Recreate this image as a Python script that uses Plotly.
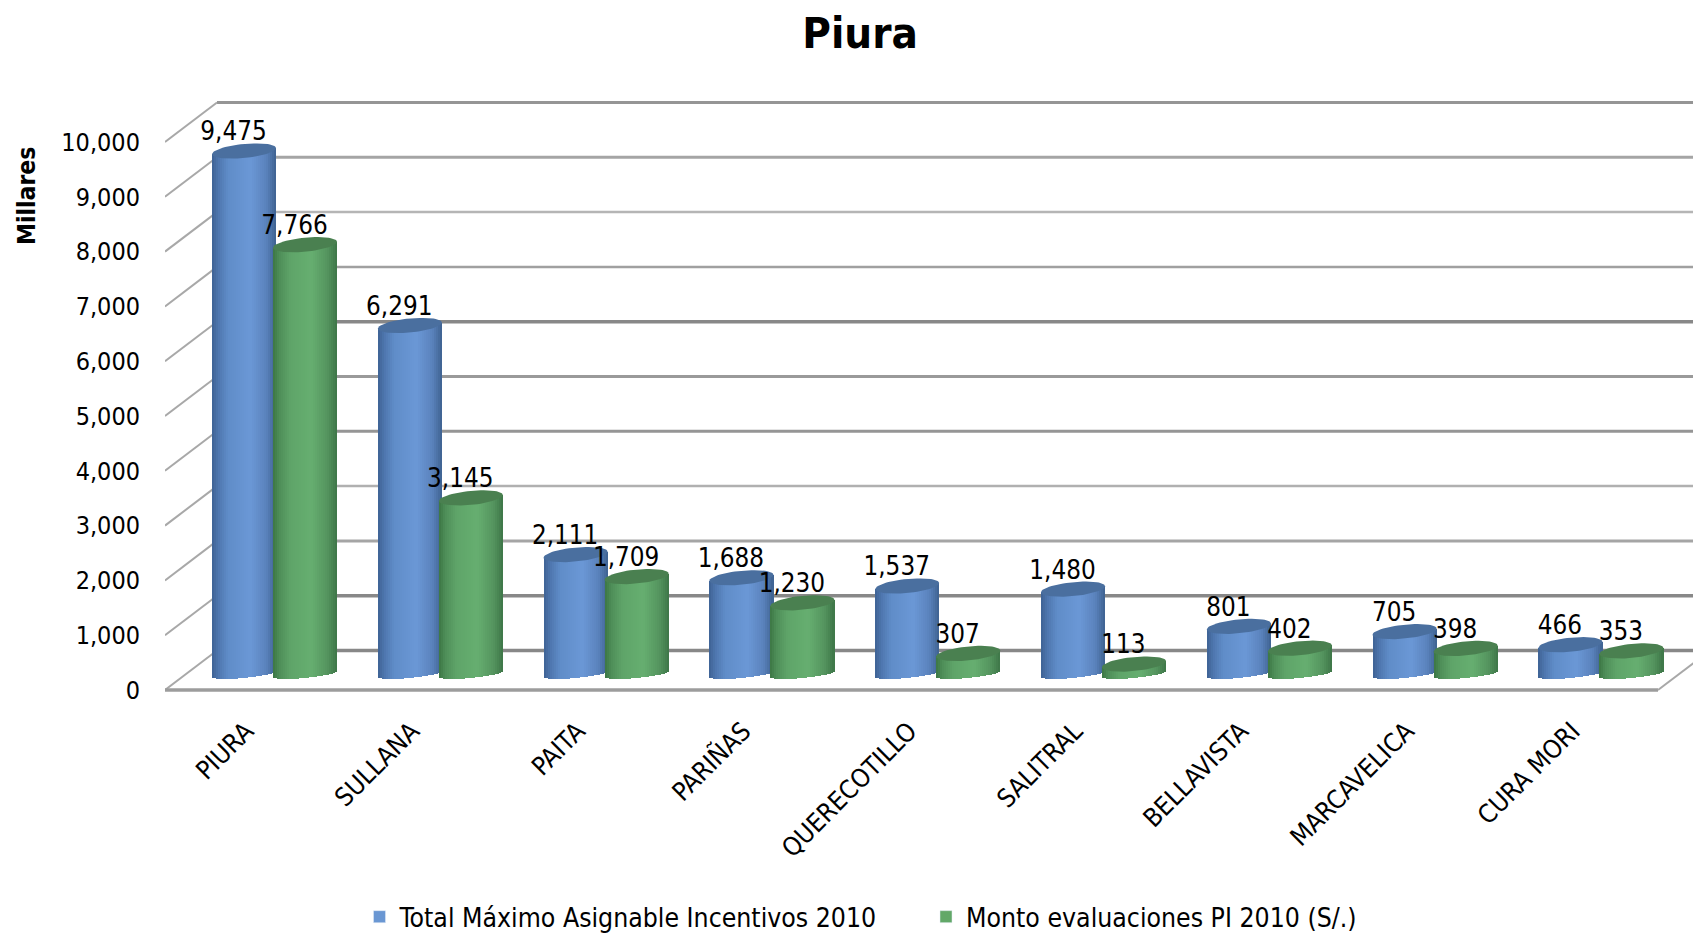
import plotly.graph_objects as go
import numpy as np

categories = ["PIURA", "SULLANA", "PAITA", "PARIÑAS", "QUERECOTILLO", "SALITRAL", "BELLAVISTA", "MARCAVELICA", "CURA MORI"]
total_maximo = [9475, 6291, 2111, 1688, 1537, 1480, 801, 705, 466]
monto_eval = [7766, 3145, 1709, 1230, 307, 113, 402, 398, 353]
y_ticks = [0, 1000, 2000, 3000, 4000, 5000, 6000, 7000, 8000, 9000, 10000]
series_names = ["Total Máximo Asignable Incentivos 2010", "Monto evaluaciones PI 2010 (S/.)"]
grid_colors = ["#888888", "#888888", "#a5a5a5", "#b0b0b0", "#959595", "#9a9a9a", "#888888", "#a0a0a0", "#b5b5b5", "#a5a5a5", "#959595"]
grid_widths = [3.5, 3.5, 3, 2.5, 3, 3, 3.5, 2.5, 2.5, 3, 3]

FONT = "DejaVu Sans Condensed"
W, H = 1693, 934
L, T, B = 165, 80, 700
PX_PER_UNIT = 0.0548
PX_PER_GROUP = 165.8
X0 = 275  # pixel of first group centre


def dx(px):
    return px / PX_PER_GROUP


def dy(px):
    return px / PX_PER_UNIT


x_range = [(L - X0) / PX_PER_GROUP, (W - X0) / PX_PER_GROUP]
y_range = [-(B - 690) / PX_PER_UNIT, (690 - T) / PX_PER_UNIT]

DEPTH_X, DEPTH_Y = dx(52), dy(39.5)
MID_Y = DEPTH_Y / 2
HALF_W = dx(32)
N = 32


def lerp(stops, t):
    pos = [s[0] for s in stops]
    rgb = [np.interp(t, pos, [s[1][i] for s in stops]) for i in range(3)]
    return "rgb(%d,%d,%d)" % tuple(int(round(c)) for c in rgb)


blue_stops = [(0, (62, 98, 148)), (0.1, (78, 118, 174)), (0.25, (95, 140, 200)), (0.6, (107, 152, 214)),
              (0.85, (90, 130, 188)), (1, (62, 98, 145))]
green_stops = [(0, (60, 118, 68)), (0.1, (78, 142, 88)), (0.28, (95, 165, 105)), (0.6, (102, 174, 112)),
               (0.85, (84, 148, 94)), (1, (62, 118, 72))]

fig = go.Figure()

series = [
    (total_maximo, dx(-31), blue_stops, "#4a6f9f", "#6a97d3", series_names[0]),
    (monto_eval, dx(30), green_stops, "#4a8050", "#62a868", series_names[1]),
]

BASE_C = dy(690 - 678)
BOT_K = dy(4)
SKEW = dy(3)
TOP_B = dy(7)

for values, off, stops, top_col, leg_col, name in series:
    vals = np.array(values, dtype=float)
    for k in range(N):
        t = (k + 0.5) / N * 2 - 1
        sag = np.sqrt(1 - t * t)
        base = BASE_C + BOT_K * (1 - sag) + SKEW * t
        top = vals + MID_Y + SKEW * t
        fig.add_bar(
            x=[i + off + t * HALF_W for i in range(len(categories))],
            y=top - base,
            base=[base] * len(categories),
            width=2 * HALF_W / N * 1.1,
            marker=dict(color=lerp(stops, (t + 1) / 2), line=dict(width=0)),
            showlegend=False,
            hoverinfo="skip",
        )

# cylinder caps, then value labels
theta = np.linspace(0, 2 * np.pi, 61)
for values, off, stops, top_col, leg_col, name in series:
    for i, v in enumerate(values):
        fig.add_scatter(
            x=i + off + HALF_W * np.cos(theta),
            y=v + MID_Y + TOP_B * np.sin(theta) + SKEW * np.cos(theta),
            mode="lines", line=dict(width=0), fill="toself", fillcolor=top_col,
            showlegend=False, hoverinfo="skip",
        )

for values, off, stops, top_col, leg_col, name in series:
    fig.add_scatter(
        x=[i + off + dx(-10.5) for i in range(len(values))],
        y=[v + MID_Y + dy(17) for v in values],
        mode="text", text=[f"{v:,}" for v in values], textposition="middle center",
        textfont=dict(family=FONT, size=25.8, color="black"),
        showlegend=False, hoverinfo="skip",
    )

# legend keys, one legend box per series so each can sit where the reference has it
for (values, off, stops, top_col, leg_col, name), lg in zip(series, ["legend", "legend2"]):
    fig.add_bar(x=[None], y=[None], name=name, marker=dict(color=leg_col), legend=lg, showlegend=True)

# 3D frame: back wall grid, side diagonals, floor
shapes = []
x_back = x_range[0] + DEPTH_X
for v, c, w in zip(y_ticks, grid_colors, grid_widths):
    shapes.append(dict(type="line", xref="x", yref="y", layer="below",
                       x0=x_back, x1=x_range[1], y0=v + DEPTH_Y, y1=v + DEPTH_Y,
                       line=dict(color=c, width=w)))
    shapes.append(dict(type="line", xref="x", yref="y", layer="below",
                       x0=x_range[0], x1=x_back, y0=v, y1=v + DEPTH_Y,
                       line=dict(color="#a8a8a8", width=2)))
x_floor_end = (1658 - X0) / PX_PER_GROUP
shapes.append(dict(type="line", xref="x", yref="y", layer="below", x0=x_range[0], x1=x_floor_end, y0=0, y1=0,
                   line=dict(color="#9c9c9c", width=3.5)))
shapes.append(dict(type="line", xref="x", yref="y", layer="below", x0=x_floor_end, x1=x_floor_end + DEPTH_X,
                   y0=0, y1=DEPTH_Y, line=dict(color="#a8a8a8", width=2)))

legend_common = dict(orientation="h", yref="container", y=17 / H, yanchor="middle", xanchor="left",
                     xref="container", font=dict(family=FONT, size=26.4), itemwidth=30,
                     bgcolor="rgba(0,0,0,0)")

fig.update_layout(
    width=W, height=H, margin=dict(l=L, r=0, t=T, b=H - B, pad=0),
    barmode="overlay", bargap=0, plot_bgcolor="white", paper_bgcolor="white",
    font=dict(family=FONT, color="black"), shapes=shapes,
    title=dict(text="<b>Piura</b>", x=0.508, xanchor="center", y=0.965, yanchor="middle",
               font=dict(family=FONT, size=43.5, color="black")),
    xaxis=dict(range=x_range, tickmode="array",
               tickvals=[i - dx(29) for i in range(len(categories))], ticktext=categories,
               tickangle=-45, showgrid=False, zeroline=False, showline=False, ticks="",
               tickfont=dict(family=FONT, size=25.6), ticklabelstandoff=10),
    yaxis=dict(range=y_range, tickmode="array", tickvals=y_ticks, tickformat=",",
               showgrid=False, zeroline=False, showline=False, ticks="",
               tickfont=dict(family=FONT, size=25), ticklabelstandoff=24),
    legend=dict(x=(400 - 40.5) / W, **legend_common),
    legend2=dict(x=(966 - 40) / W, **legend_common),
    annotations=[dict(text="<b>Millares</b>", textangle=-90,
                      x=(26 - L) / (W - L), y=(B - 196) / (B - T), xref="paper", yref="paper",
                      xanchor="center", yanchor="middle",
                      showarrow=False, font=dict(family=FONT, size=24.5))],
)

fig.write_html("out.html", config=dict(displayModeBar=False),
               post_script="document.body.style.margin='0';document.documentElement.style.overflow='hidden';")
